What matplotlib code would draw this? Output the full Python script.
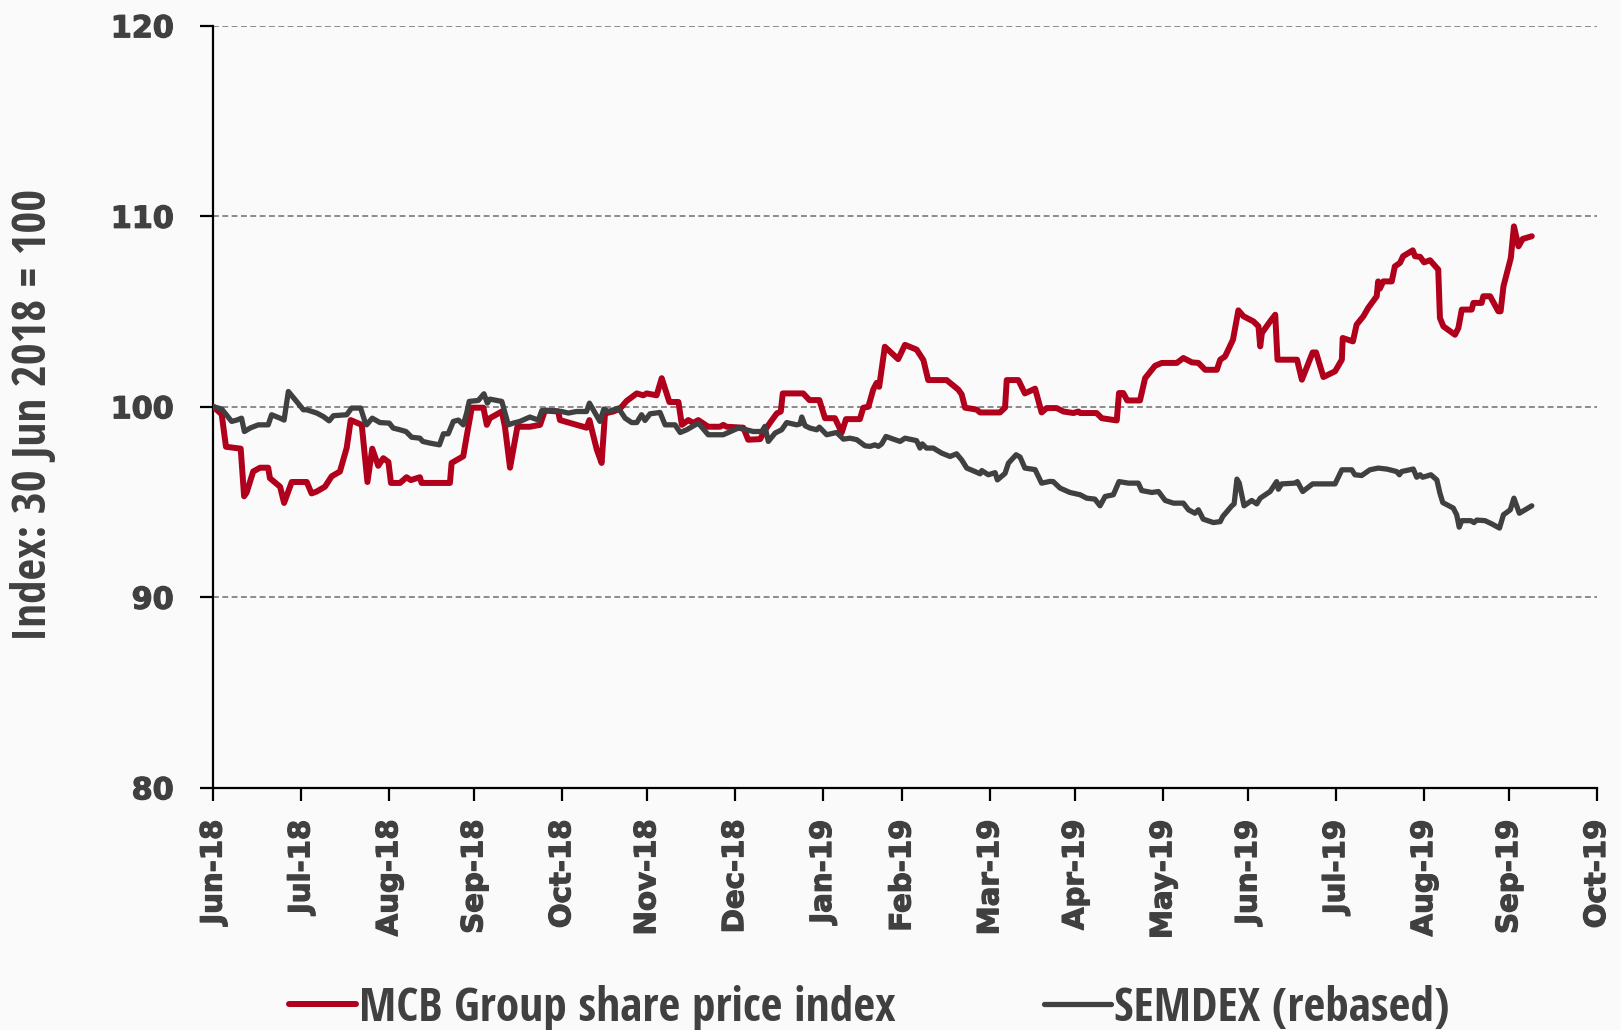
import matplotlib
matplotlib.use("Agg")
import matplotlib.pyplot as plt
import matplotlib.dates as mdates
import matplotlib.font_manager as fm
import matplotlib.patheffects as pe
import pandas as pd

# ---------------- data (days after 30 Jun 2018, index value) ----------------
mcb_days = [0, 2.9, 4.4, 9.6, 10.8, 11.7, 14.0, 16.4, 19.3, 19.9, 23.5, 24.9, 27.6, 32.9, 34.6,
            36.4, 39.3, 41.7, 44.6, 47.0, 48.4, 52.3, 54.3, 56.0, 58.1, 59.9, 61.7, 62.6, 65.8,
            68.1, 69.6, 72.8, 73.4, 83.4, 84.0, 88.1, 89.3, 91.1, 95.2, 96.4, 97.5, 101.7, 102.8,
            104.6, 107.2, 111.6, 115.2, 116.9, 121.6, 122.2, 128.1, 131.6, 132.6, 135.2, 136.9,
            138.1, 141.0, 143.4, 145.7, 149.3, 151.6, 152.8, 156.3, 158.1, 160.8, 164.0, 165.2,
            167.5, 169.2, 171.0, 174.5, 178.7, 179.8, 181.0, 186.9, 188.6, 192.8, 195.1, 196.5,
            198.7, 200.1, 200.8, 202.7, 208.0, 210.2, 213.7, 215.7, 219.2, 221.6, 223.1, 228.0,
            229.2, 231.0, 232.7, 233.9, 234.8, 236.8, 241.5, 243.9, 248.0, 250.4, 252.1, 258.6,
            262.7, 263.9, 265.1, 269.2, 270.4, 277.4, 279.2, 279.8, 283.9, 286.2, 289.8, 292.1,
            293.9, 297.4, 299.8, 303.3, 305.1, 305.7, 311.5, 313.3, 318.6, 319.4, 320.9, 322.3,
            326.8, 328.6, 332.1, 334.5, 339.8, 342.1, 345.1, 347.4, 349.8, 353.9, 355.1, 356.8,
            359.6, 361.5, 363.3, 366.8, 368.6, 369.2, 369.8, 372.7, 374.5, 375.3, 382.2, 383.9,
            387.7, 388.9, 391.5, 395.6, 398.0, 398.3, 401.9, 403.2, 405.6, 407.3, 410.3, 410.8,
            411.4, 412.6, 415.6, 416.7, 418.5, 419.6, 423.0, 423.8, 425.6, 427.0, 429.1, 432.0,
            432.6, 433.8, 437.9, 439.1, 440.3, 443.8, 444.4, 447.3, 447.9, 450.3, 453.2, 454.0,
            455.0, 457.6, 458.7, 460.3, 461.8, 465.0]
mcb_vals = [100.0, 99.6, 97.9, 97.8, 95.3, 95.5, 96.6, 96.8, 96.8, 96.25, 95.8, 94.95, 96.05, 96.05,
            95.45, 95.55, 95.8, 96.35, 96.6, 97.85, 99.3, 99.05, 96.05, 97.8, 96.9, 97.3, 97.1,
            96.0, 96.0, 96.3, 96.15, 96.3, 96.0, 96.0, 97.05, 97.4, 98.45, 99.95, 99.95, 99.05,
            99.4, 99.75, 98.95, 96.8, 98.95, 98.95, 99.05, 99.8, 99.75, 99.3, 99.05, 98.9, 99.3,
            97.75, 97.05, 99.65, 99.75, 99.9, 100.3, 100.7, 100.6, 100.7, 100.6, 101.5, 100.25,
            100.25, 99.05, 99.3, 99.15, 99.3, 98.95, 98.95, 99.05, 98.95, 98.9, 98.27, 98.3,
            98.9, 99.2, 99.65, 99.75, 100.7, 100.7, 100.7, 100.35, 100.35, 99.4, 99.4, 98.65,
            99.35, 99.35, 99.95, 100.0, 100.9, 101.25, 101.05, 103.15, 102.5, 103.25, 103.0,
            102.45, 101.4, 101.4, 100.9, 100.65, 99.95, 99.85, 99.7, 99.7, 99.95, 101.4, 101.4,
            100.7, 100.95, 99.7, 99.93, 99.93, 99.75, 99.67, 99.75, 99.67, 99.67, 99.4, 99.28,
            100.72, 100.72, 100.33, 100.33, 101.5, 102.15, 102.3, 102.3, 102.56, 102.33, 102.3,
            101.94, 101.94, 102.47, 102.64, 103.52, 105.06, 104.75, 104.48, 104.22, 103.17,
            103.87, 104.48, 104.83, 102.47, 102.47, 101.42, 102.85, 102.85, 101.56, 101.86,
            102.47, 103.61, 103.43, 104.31, 104.75, 105.19, 105.8, 106.58, 106.2, 106.58, 106.58,
            107.37, 107.55, 107.9, 108.21, 107.9, 107.87, 107.58, 107.69, 107.2, 104.66, 104.22,
            103.78, 104.13, 105.1, 105.1, 105.45, 105.45, 105.8, 105.8, 105.01, 105.01, 106.32,
            107.81, 109.47, 108.42, 108.81, 108.95]

sem_days = [0, 2.9, 6.4, 8.2, 9.9, 10.9, 12.9, 15.8, 19.3, 20.5, 23.5, 24.9, 26.4, 29.3, 31.7, 32.9,
            36.4, 38.7, 40.8, 42.3, 47.0, 48.7, 51.9, 53.4, 54.0, 56.0, 58.7, 62.0, 63.4, 65.8,
            67.9, 69.9, 72.8, 73.8, 76.4, 79.7, 81.1, 82.8, 84.6, 86.4, 88.1, 89.3, 90.2, 93.4,
            95.4, 96.6, 97.5, 101.7, 104.0, 105.7, 108.1, 111.6, 114.6, 115.8, 119.9, 122.8,
            125.2, 128.1, 131.6, 132.6, 134.6, 136.3, 137.7, 139.3, 142.8, 145.2, 147.5, 149.3,
            151.0, 152.2, 154.0, 157.5, 159.3, 162.8, 164.6, 166.9, 171.0, 174.5, 179.8, 181.6,
            185.1, 188.0, 190.4, 193.4, 194.5, 195.7, 198.1, 200.4, 202.2, 205.7, 206.9, 207.5,
            208.7, 210.4, 212.8, 213.7, 216.3, 219.8, 222.2, 224.5, 226.9, 229.8, 231.6, 233.3,
            234.5, 235.7, 237.2, 239.8, 242.2, 243.9, 248.0, 249.2, 250.0, 251.5, 253.9, 256.8,
            259.8, 262.1, 263.9, 265.7, 268.6, 270.4, 271.0, 273.3, 275.7, 276.5, 279.2, 280.4,
            283.1, 284.5, 286.2, 289.8, 292.1, 295.0, 296.2, 298.6, 302.1, 305.7, 308.0, 310.9,
            312.7, 314.5, 317.4, 319.4, 322.7, 326.2, 327.4, 331.0, 333.3, 335.7, 338.6, 342.1,
            343.9, 346.2, 347.4, 349.1, 352.7, 355.1, 356.0, 359.2, 360.0, 361.0, 361.8, 363.5,
            366.2, 368.0, 369.2, 372.7, 375.0, 375.6, 376.8, 381.5, 382.3, 384.2, 387.7, 395.6,
            398.0, 401.5, 402.6, 405.0, 407.9, 410.8, 413.8, 417.3, 418.3, 419.1, 423.2, 424.4,
            425.6, 426.5, 427.7, 429.4, 431.5, 432.6, 433.6, 437.3, 438.5, 439.4, 440.3, 443.5,
            444.6, 445.6, 448.5, 450.9, 453.6, 455.0, 457.4, 458.7, 460.6, 465.0]
sem_vals = [100.0, 99.88, 99.23, 99.3, 99.4, 98.7, 98.88, 99.05, 99.05, 99.58, 99.4, 99.3, 100.8,
            100.28, 99.84, 99.84, 99.67, 99.49, 99.26, 99.53, 99.58, 99.93, 99.93, 99.23, 99.05,
            99.4, 99.17, 99.14, 98.88, 98.79, 98.7, 98.4, 98.35, 98.18, 98.09, 98.0, 98.58,
            98.58, 99.23, 99.3, 99.05, 99.67, 100.28, 100.33, 100.68, 100.19, 100.4, 100.28,
            99.05, 99.14, 99.23, 99.46, 99.3, 99.8, 99.8, 99.75, 99.67, 99.75, 99.75, 100.19,
            99.67, 99.23, 99.88, 99.75, 99.93, 99.4, 99.17, 99.17, 99.58, 99.28, 99.63, 99.7,
            99.05, 99.05, 98.65, 98.79, 99.14, 98.53, 98.53, 98.65, 98.88, 98.79, 98.7, 98.7,
            98.97, 98.18, 98.62, 98.79, 99.17, 99.05, 99.1, 99.46, 99.0, 98.88, 98.79, 98.93,
            98.53, 98.65, 98.3, 98.35, 98.27, 97.95, 97.92, 98.0, 97.92, 98.05, 98.44, 98.3,
            98.18, 98.35, 98.22, 97.83, 98.05, 97.83, 97.83, 97.57, 97.39, 97.53, 97.21, 96.78,
            96.6, 96.48, 96.65, 96.43, 96.54, 96.16, 96.5, 97.04, 97.48, 97.36, 96.78, 96.7,
            95.99, 96.08, 96.07, 95.73, 95.5, 95.38, 95.2, 95.15, 94.8, 95.29, 95.38, 96.07,
            95.99, 95.99, 95.6, 95.5, 95.55, 95.08, 94.94, 94.94, 94.59, 94.41, 94.59, 94.1,
            93.92, 93.97, 94.24, 94.8, 94.9, 96.2, 96.0, 94.8, 95.08, 94.9, 95.2, 95.55, 96.07,
            95.67, 95.95, 95.99, 96.07, 95.55, 95.95, 95.95, 96.69, 96.69, 96.43, 96.39, 96.69,
            96.78, 96.73, 96.6, 96.43, 96.6, 96.73, 96.3, 96.43, 96.3, 96.35, 96.43, 96.16,
            95.46, 94.97, 94.68, 94.33, 93.68, 94.02, 94.02, 93.92, 94.05, 94.02, 93.85, 93.63,
            94.33, 94.59, 95.2, 94.41, 94.8]

base_date = "2018-06-30"
series_names = ["MCB Group share price index", "SEMDEX (rebased)"]
y_ticks = [80, 90, 100, 110, 120]
y_label = "Index: 30 Jun 2018 = 100"

# ---------------- styling ----------------
RED = "#B0001C"
GRAY = "#404040"
TXT = "#404040"
DPI = 100
W, H = 1621, 1030


def _wnum(w):
    if isinstance(w, (int, float)):
        return int(w)
    return {"bold": 700, "heavy": 900, "black": 900, "semibold": 600, "demibold": 600,
            "medium": 500, "normal": 400, "regular": 400, "light": 300}.get(str(w).lower(), 400)


def pick_narrow_bold():
    """Find an installed bold condensed/narrow sans face (Calibri-like look)."""
    best, best_score = None, -1e9
    for f in fm.fontManager.ttflist:
        nm, fn = f.name.lower(), f.fname.lower().replace("-", "").replace("_", "")
        st = str(f.stretch).lower()
        narrow = ("narrow" in nm or "condensed" in nm or "narrow" in fn or "condensed" in fn
                  or "condensed" in st)
        if not narrow or f.style != "normal":
            continue
        score = -abs(_wnum(f.weight) - 700) / 50.0
        if "extra" in fn or "ultra" in fn or "extra" in st or "ultra" in st:
            score -= 6
        if "semicondensed" in fn or "semi" in st:
            score += 1
        for i, pref in enumerate(["liberation sans narrow", "open sans", "noto sans", "roboto",
                                  "dejavu sans", "lato"]):
            if nm.startswith(pref):
                score += (6 - i) * 0.3
        if score > best_score:
            best, best_score = f, score
    if best is not None:
        return fm.FontProperties(fname=best.fname)
    return fm.FontProperties(family="DejaVu Sans", weight="bold", stretch="condensed")


NARROW = pick_narrow_bold()
BOLD_STROKE = [pe.withStroke(linewidth=0.9, foreground=TXT)]

base = pd.Timestamp(base_date)
mcb_x = base + pd.to_timedelta(mcb_days, unit="D")
sem_x = base + pd.to_timedelta(sem_days, unit="D")

fig = plt.figure(figsize=(W / DPI, H / DPI), dpi=DPI, facecolor="#fafafa")
ax = fig.add_axes([0.1317, 0.2352, 0.9852 - 0.1317, 0.975 - 0.2352])
ax.set_facecolor("none")

l1, = ax.plot(mcb_x, mcb_vals, color=RED, lw=4.3, solid_joinstyle="round",
              solid_capstyle="round", zorder=3)
l2, = ax.plot(sem_x, sem_vals, color=GRAY, lw=3.8, solid_joinstyle="round",
              solid_capstyle="round", zorder=4)

ax.set_ylim(80, 120)
ax.set_yticks(y_ticks)
ax.set_xlim(pd.Timestamp("2018-06-30"), pd.Timestamp("2019-10-31"))
month_ends = pd.date_range("2018-06-30", "2019-10-31", freq="ME")
ax.set_xticks(month_ends)
ax.xaxis.set_major_formatter(mdates.DateFormatter("%b-%y"))

for v in y_ticks[1:]:
    ax.axhline(v, color="#8a8a8a", lw=1.4, dashes=(3.0, 1.8), zorder=1)

for s in ["top", "right"]:
    ax.spines[s].set_visible(False)
for s in ["left", "bottom"]:
    ax.spines[s].set_linewidth(1.6)
    ax.spines[s].set_color("black")

renderer = fig.canvas.get_renderer()


def fit_size(text, target_px, fp_base, start=30.0):
    """Font size (pt) at which face `fp_base` renders `text` target_px wide."""
    fp = fp_base.copy()
    fp.set_size(start)
    t = fig.text(0, 0, text, fontproperties=fp)
    w = t.get_window_extent(renderer).width
    t.remove()
    return start * target_px / w


# y tick labels: Verdana-like bold, "120" about 62 px wide in the reference
fp_yt = fm.FontProperties(family="DejaVu Sans", weight="bold", stretch="semi-condensed")
yt_size = min(25.0, fit_size("120", 63, fp_yt))
ax.tick_params(axis="y", direction="out", length=9.5, width=1.6, pad=19,
               labelsize=yt_size, labelcolor=TXT)
ax.tick_params(axis="x", direction="out", length=9, width=1.6, pad=14,
               labelsize=21, labelcolor=TXT, labelrotation=90)
for lab in ax.get_yticklabels():
    lab.set_fontproperties(fp_yt)
    lab.set_fontsize(yt_size)
    lab.set_path_effects(BOLD_STROKE)
for lab in ax.get_xticklabels():
    lab.set_fontweight("bold")
    lab.set_path_effects(BOLD_STROKE)

# y-axis title: spans ~452 px in the reference
ylab_size = fit_size(y_label, 452, NARROW)
fp_y = NARROW.copy()
fp_y.set_size(ylab_size)
ax.set_ylabel(y_label, fontproperties=fp_y, color=TXT, va="baseline")
ax.yaxis.set_label_coords(-0.1210, 0.4898)

# legend: "MCB Group share price index" spans ~535 px, handles ~67 px
leg_size = fit_size(series_names[0], 535, NARROW)
fp_l = NARROW.copy()
fp_l.set_size(leg_size)
em = leg_size * DPI / 72.0
leg = fig.legend([l1, l2], series_names, loc="center left",
                 bbox_to_anchor=(289 / W, 0.021), ncol=2, frameon=False,
                 borderpad=0, borderaxespad=0,
                 handlelength=67 / em, handletextpad=3 / em,
                 columnspacing=148 / em, prop=fp_l)
for t in leg.get_texts():
    t.set_color(TXT)

fig.savefig("out.png", dpi=DPI, facecolor=fig.get_facecolor())
